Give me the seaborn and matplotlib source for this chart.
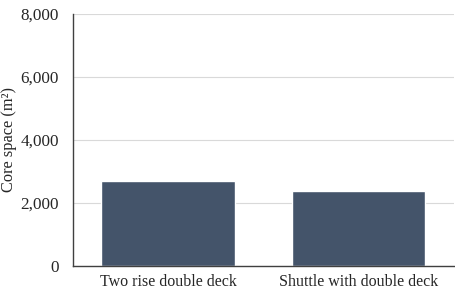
import matplotlib
matplotlib.use("Agg")
import matplotlib.pyplot as plt
import seaborn as sns
import pandas as pd
from matplotlib.ticker import FuncFormatter

categories = ["Two rise double deck", "Shuttle with double deck"]
core_space = [2685, 2370]

sns.set_theme(style="white")
plt.rcParams['font.family'] = ['Liberation Serif', 'DejaVu Serif']

df = pd.DataFrame({"cat": categories, "val": core_space})

fig = plt.figure(figsize=(4.56, 2.96), dpi=100)
ax = fig.add_axes([0.1594, 0.1014, 0.8356, 0.8513])
sns.barplot(data=df, x="cat", y="val", color="#44546A", width=0.7, saturation=1, ax=ax)
ax.set_ylim(0, 8000)
ax.set_yticks([0, 2000, 4000, 6000, 8000])
ax.yaxis.set_major_formatter(FuncFormatter(lambda v, p: f"{int(v):,}"))
ax.grid(axis="y", color="#D9D9D9", linewidth=0.8)
ax.set_axisbelow(True)
ax.set_xlabel("")
ax.set_ylabel("Core space (m²)", fontsize=11.8, color="#262626")
ax.yaxis.set_label_coords(-0.145, 0.5)
ax.tick_params(axis="y", length=0, labelsize=12.3, colors="#262626", pad=10)
ax.tick_params(axis="x", length=0, labelsize=11.5, colors="#262626", pad=6)
for s in ["top", "right"]:
    ax.spines[s].set_visible(False)
ax.spines["left"].set_color("#404040")
ax.spines["bottom"].set_color("#404040")
ax.spines["left"].set_linewidth(1.0)
ax.spines["bottom"].set_linewidth(1.0)
ax.set_xlim(-0.5, 1.5)
fig.savefig("out.png", dpi=100)
